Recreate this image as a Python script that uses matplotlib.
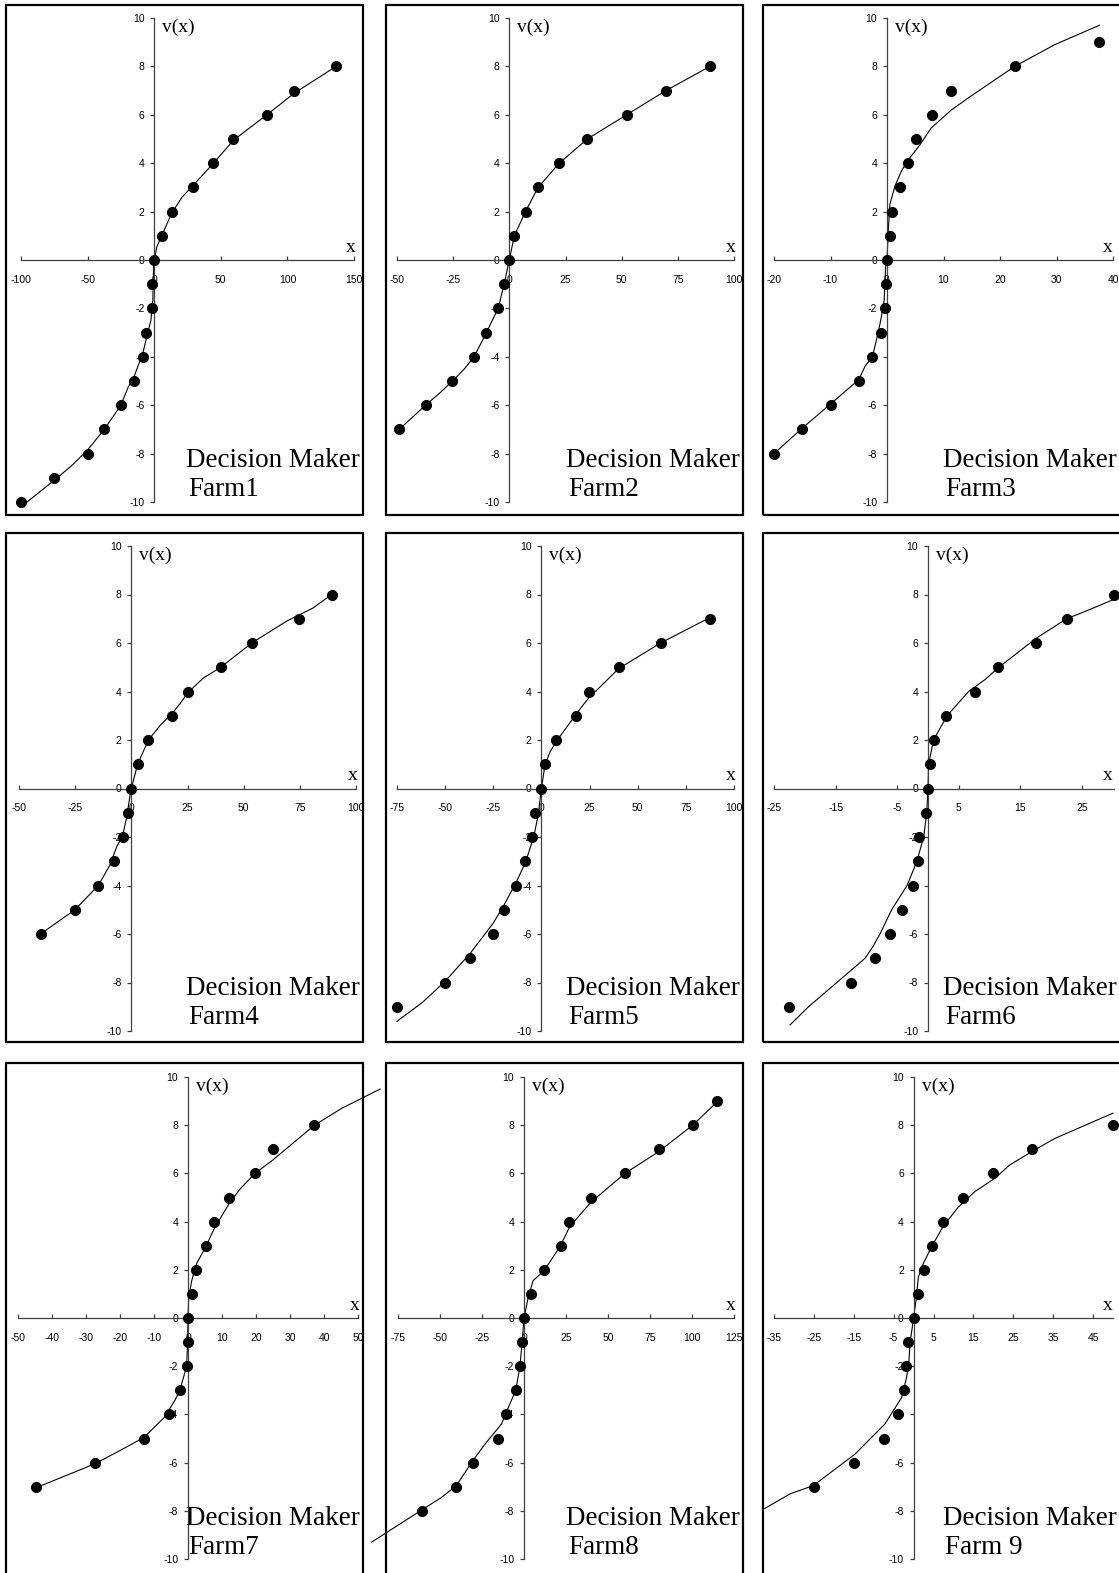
import numpy as np
import matplotlib
matplotlib.use("Agg")
import matplotlib.pyplot as plt
from matplotlib.patches import Rectangle

plt.rcParams['axes.unicode_minus'] = False

v_levels = list(range(-10, 11))

# observed points (x, v) and fitted curve for each decision maker
farm1_x = [-100, -75, -50, -37.5, -25, -15, -8.5, -6, -1.75, -1.75, 0, 6, 13.3, 29.5, 44.5, 59.5, 84.6, 105.3, 136.6]
farm1_v = [-10, -9, -8, -7, -6, -5, -4, -3, -2, -1, 0, 1, 2, 3, 4, 5, 6, 7, 8]
farm1_fx = [-100, -75, -62, -50, -37.5, -25, -19.5, -15, -8.5, -5.5, -2.5, -1, -0.5, 0, 2, 6, 13.3, 21, 29.5, 44.5, 59.5, 84.6, 105.3, 136.6]
farm1_fv = [-10.2, -9.1, -8.5, -7.85, -7.0, -6.0, -5.25, -4.8, -3.85, -3.15, -2.5, -1.65, -0.3, 0, 0.55, 1.05, 1.95, 2.6, 3.1, 4.0, 4.95, 6.0, 6.9, 8.0]

farm2_x = [-49, -37.3, -25.3, -15.7, -10.2, -5, -2.3, 0, 2.2, 7.2, 12.8, 22.2, 34.7, 52.2, 69.7, 89.3]
farm2_v = [-7, -6, -5, -4, -3, -2, -1, 0, 1, 2, 3, 4, 5, 6, 7, 8]
farm2_fx = [-49, -37.3, -31, -25.3, -20, -15.7, -10.2, -5, -2.3, -0.5, 0, 2.2, 7.2, 12.8, 22.2, 34.7, 52.2, 69.7, 89.3]
farm2_fv = [-7, -6, -5.5, -5, -4.5, -4, -3, -2, -1, -0.2, 0, 1, 2, 3, 4, 5, 6, 7, 8]

farm3_x = [-20, -15, -10, -5, -2.6, -1.1, -0.4, -0.1, 0, 0.6, 0.9, 2.3, 3.8, 5.1, 8, 11.4, 22.6, 37.6]
farm3_v = [-8, -7, -6, -5, -4, -3, -2, -1, 0, 1, 2, 3, 4, 5, 6, 7, 8, 9]
farm3_fx = [-20, -15, -10, -5, -3.9, -2.6, -1.6, -1, -0.5, -0.25, 0, 0.2, 0.5, 1.4, 2.6, 3.8, 5.8, 7.8, 11.4, 14.4, 22.6, 29.7, 37.6]
farm3_fv = [-8, -6.95, -5.95, -4.95, -4.4, -4.0, -3.05, -2.35, -1.65, -0.3, 0, 1.1, 2.3, 3.05, 3.7, 4.15, 4.75, 5.45, 6.2, 6.7, 8.0, 8.9, 9.7]

farm4_x = [-40.4, -25.1, -14.7, -7.6, -3.9, -1.6, 0, 2.8, 7.6, 18.2, 25.1, 39.8, 53.6, 74.5, 89.2]
farm4_v = [-6, -5, -4, -3, -2, -1, 0, 1, 2, 3, 4, 5, 6, 7, 8]
farm4_fx = [-40.4, -25.1, -14.7, -9.5, -6.5, -3.9, -2.1, -0.6, 0, 2.8, 7.6, 12.8, 18.2, 21.7, 25.1, 32, 39.8, 53.6, 69.1, 81, 89.2]
farm4_fv = [-6, -5, -4, -3.15, -2.4, -1.95, -1.2, -0.3, 0, 1.0, 2.0, 2.6, 3.1, 3.5, 3.95, 4.55, 5.0, 6.0, 6.9, 7.45, 8.0]

farm5_x = [-75, -50, -37, -25, -19.4, -13.3, -8.3, -5, -3.3, 0, 2.1, 7.8, 17.9, 24.8, 40.2, 61.9, 87.5]
farm5_v = [-9, -8, -7, -6, -5, -4, -3, -2, -1, 0, 1, 2, 3, 4, 5, 6, 7]
farm5_fx = [-75, -61.5, -50, -37, -25, -19.4, -13.3, -8.3, -4, -1.7, 0, 1.8, 4.4, 7.8, 17.9, 21.7, 24.8, 40.2, 61.9, 87.5]
farm5_fv = [-9.6, -8.8, -7.95, -6.8, -5.55, -4.8, -3.9, -3.05, -2.0, -1.1, 0, 0.95, 1.5, 1.95, 3.05, 3.45, 3.75, 4.95, 6.0, 7.05]

farm6_x = [-22.5, -12.5, -8.6, -6.2, -4.3, -2.5, -1.6, -1.4, -0.35, 0, 0.25, 1, 2.9, 7.7, 11.3, 17.6, 22.5, 30.2]
farm6_v = [-9, -8, -7, -6, -5, -4, -3, -2, -1, 0, 1, 2, 3, 4, 5, 6, 7, 8]
farm6_fx = [-22.4, -19.4, -14.8, -10.2, -8.9, -7.8, -5.9, -3.4, -1.8, -0.7, -0.2, 0, 0.1, 0.9, 3.1, 6.6, 9.3, 11.5, 17.6, 22.5, 25.5, 30.2]
farm6_fv = [-9.75, -9.0, -8.0, -7.0, -6.5, -6.0, -5.0, -4.0, -3.0, -2.0, -1.0, 0, 1.0, 2.0, 3.0, 4.0, 4.5, 5.0, 6.2, 7.0, 7.3, 7.8]

farm7_x = [-44.8, -27.4, -12.9, -5.5, -2.4, -0.4, -0.1, 0, 1.1, 2.4, 5.2, 7.5, 12.1, 19.7, 24.9, 37.2]
farm7_v = [-7, -6, -5, -4, -3, -2, -1, 0, 1, 2, 3, 4, 5, 6, 7, 8]
farm7_fx = [-44.8, -27.4, -20, -12.9, -6.8, -3.8, -2.4, -1.4, -0.4, -0.1, 0, 0.2, 1.1, 2.5, 5.2, 7.5, 12.1, 15.3, 19.7, 24.9, 37.2, 45.2, 56.5]
farm7_fv = [-7.05, -6.05, -5.5, -4.95, -4.1, -3.4, -3.0, -2.5, -2.0, -1.0, 0, 0.85, 1.55, 2.25, 2.95, 3.65, 4.75, 5.35, 6.0, 6.55, 8.0, 8.7, 9.5]

farm8_x = [-60.5, -40.2, -30.3, -15.4, -10.8, -4.9, -2.5, -1.1, 0, 4.4, 11.8, 22.3, 26.9, 39.8, 60.1, 80.1, 100.4, 114.7]
farm8_v = [-8, -7, -6, -5, -4, -3, -2, -1, 0, 1, 2, 3, 4, 5, 6, 7, 8, 9]
farm8_fx = [-90.7, -60.5, -49.2, -40.2, -30.3, -22.3, -13.4, -10.8, -4.9, -2.5, -1.1, 0, 2.5, 5.4, 11.8, 21.3, 27.3, 39.8, 60.1, 80.1, 100.4, 114.7]
farm8_fv = [-9.3, -7.95, -7.45, -6.95, -5.9, -5.15, -4.4, -3.95, -3.0, -2.05, -1.0, 0, 0.85, 1.55, 1.95, 2.95, 3.8, 4.8, 6.0, 6.9, 8.0, 8.95]

farm9_x = [-25, -14.9, -7.4, -3.9, -2.3, -2, -1.3, 0, 1.2, 2.6, 4.7, 7.4, 12.4, 19.9, 29.6, 50]
farm9_v = [-7, -6, -5, -4, -3, -2, -1, 0, 1, 2, 3, 4, 5, 6, 7, 8]
farm9_fx = [-37.3, -31, -25.1, -14.7, -7.2, -3, -1.8, -1.2, -0.9, -0.3, 0, 0.7, 1.2, 2.4, 4.5, 7.4, 11.2, 15.4, 20.4, 24.1, 29.6, 35.4, 50]
farm9_fv = [-7.9, -7.3, -6.95, -5.65, -4.4, -3.3, -2.5, -1.9, -1.05, -0.35, 0, 0.85, 1.7, 2.25, 2.95, 3.8, 4.6, 5.25, 5.8, 6.35, 6.9, 7.45, 8.5]

farm_names = ["Farm1", "Farm2", "Farm3", "Farm4", "Farm5", "Farm6", "Farm7", "Farm8", "Farm 9"]
# (axis min, axis max, first tick, last tick, tick step)
x_ranges = [(-100, 150, -100, 150, 50), (-50, 100, -50, 100, 25), (-20, 40, -20, 40, 10),
            (-50, 100, -50, 100, 25), (-75, 100, -75, 100, 25), (-25, 30.2, -25, 25, 10),
            (-50, 50, -50, 50, 10), (-75, 125, -75, 125, 25), (-35, 50, -35, 45, 10)]

series = [(farm1_x, farm1_v, farm1_fx, farm1_fv), (farm2_x, farm2_v, farm2_fx, farm2_fv),
          (farm3_x, farm3_v, farm3_fx, farm3_fv), (farm4_x, farm4_v, farm4_fx, farm4_fv),
          (farm5_x, farm5_v, farm5_fx, farm5_fv), (farm6_x, farm6_v, farm6_fx, farm6_fv),
          (farm7_x, farm7_v, farm7_fx, farm7_fv), (farm8_x, farm8_v, farm8_fx, farm8_fv),
          (farm9_x, farm9_v, farm9_fx, farm9_fv)]

# layout in pixels
W, H = 1119, 1573
ax_cols = [(21, 354), (397, 734), (774, 1113),
           (19, 356), (397, 734), (774, 1114),
           (18, 358), (398, 734), (774, 1113)]
ax_rows = [(18, 502), (546, 1031), (1077, 1559)]
box_cols = [(6, 363), (386, 743), (763, 1140)]
box_rows = [(5, 515), (533, 1042), (1063, 1590)]

serif = 'Liberation Serif'
sans = 'Liberation Sans'
axcol = '#404040'

fig = plt.figure(figsize=(W / 100, H / 100), dpi=100)

for i in range(9):
    r, c = divmod(i, 3)
    l, rt = ax_cols[i]
    t, b = ax_rows[r]
    xmin, xmax, t0, t1, step = x_ranges[i]
    px, pv, fx, fv = series[i]

    ax = fig.add_axes([l / W, 1 - b / H, (rt - l) / W, (b - t) / H])
    ax.patch.set_visible(False)
    ax.set_xlim(xmin, xmax)
    ax.set_ylim(-10, 10)
    for s in ['top', 'right']:
        ax.spines[s].set_visible(False)
    for s in ['left', 'bottom']:
        ax.spines[s].set_position(('data', 0))
        ax.spines[s].set_color(axcol)
        ax.spines[s].set_linewidth(0.9)
    xt = np.arange(t0, t1 + 0.01, step)
    ax.set_xticks(xt)
    ax.set_xticklabels([str(int(v)) for v in xt], fontfamily=sans, fontsize=7.5)
    yt = v_levels[::2]
    ax.set_yticks(yt)
    ax.set_yticklabels([str(v) for v in yt], fontfamily=sans, fontsize=7.5)
    ax.tick_params(axis='x', direction='in', length=3, width=0.9, color=axcol, pad=10.5)
    ax.tick_params(axis='y', direction='out', length=3, width=0.9, color=axcol, pad=4)

    ax.plot(fx, fv, color='black', lw=0.8, clip_on=False, zorder=2)
    ax.plot(px, pv, 'o', color='black', ms=7, clip_on=False, zorder=3)

    # axis titles
    x0 = l + (0 - xmin) / (xmax - xmin) * (rt - l)
    y0 = (t + b) / 2
    fig.text((x0 + 8) / W, 1 - (t + 1) / H, "v(x)", fontfamily=serif, fontsize=14, va='top', ha='left')
    fig.text(min(rt - 3, 1108) / W, 1 - (y0 - 8) / H, "x", fontfamily=serif, fontsize=14,
             va='baseline', ha='center')

    # panel frame and label
    bl, br = box_cols[c]
    bt, bb = box_rows[r]
    fig.add_artist(Rectangle((bl / W, 1 - bb / H), (br - bl) / W, (bb - bt) / H,
                             transform=fig.transFigure, fill=False, lw=1.6, ec='black'))
    fig.text((bl + 180) / W, 1 - (bt + 462) / H, "Decision Maker", fontfamily=serif,
             fontsize=19.5, va='baseline', ha='left')
    fig.text((bl + 182) / W, 1 - (bt + 491) / H, farm_names[i], fontfamily=serif,
             fontsize=19.5, va='baseline', ha='left')

fig.savefig('out.png', dpi=100)
